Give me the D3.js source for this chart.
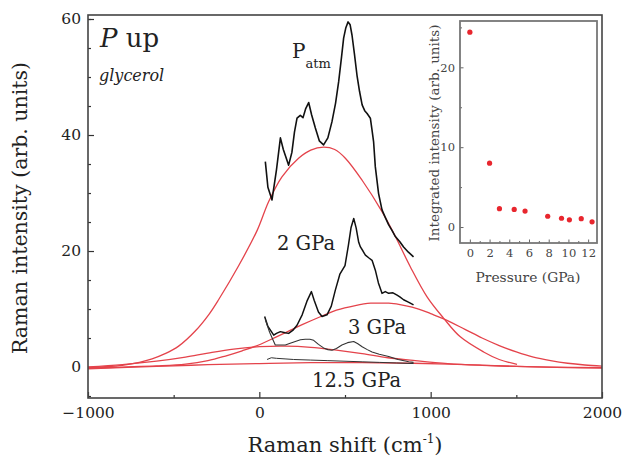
<!DOCTYPE html>
<html>
<head>
<meta charset="utf-8">
<style>
body { margin: 0; background: #fff; }
svg text { font-family: "DejaVu Serif", serif; fill: #222; }
.tick text { font-size: 15.5px; }
.inset .tick text { font-size: 11.5px; fill: #444; }
.tick line { stroke: #333; stroke-width: 1.2; }
.inset .tick line { stroke: #666; stroke-width: 1; }
.domain { display: none; }
</style>
</head>
<body>
<script src="https://d3js.org/d3.v7.min.js"></script>
<script>

// spectra: [Raman shift (cm-1), intensity]
var spectrumAtm = [[35,35.4],[50,31],[74,28.8],[100,34],[123,39.5],[140,37.5],[171,34.8],[190,37],[205,40.5],
  [220,42.9],[239,43.4],[255,43],[270,44.5],[288,45.6],[305,43.5],[327,41.2],[350,39],[375,38.3],[400,39.5],
  [424,42.3],[445,45.5],[463,49.2],[480,53.5],[492,56.7],[505,58.5],[518,59.5],[530,59],[541,57.2],[555,54],
  [570,50.3],[585,47.5],[600,45.2],[615,44.2],[629,43.7],[648,42.9],[657,41],[667,38.8],[677,34.5],[696,29.9],
  [716,27.1],[735,25.8],[755,24.5],[775,23.5],[794,22.5],[820,21.6],[842,20.7],[870,19.8],[900,19.0]];
var spectrum2 = [[31,8.7],[50,7],[84,5.5],[100,5.8],[123,6.1],[150,5.9],[171,5.8],[195,6.3],[220,7.2],[250,9],
  [280,11.5],[304,13.0],[320,11.5],[345,9.5],[366,8.7],[395,9.0],[420,10.5],[444,13.3],[470,16],[500,17.5],
  [520,21],[535,24],[551,25.6],[565,24],[580,21.5],[590,20.7],[605,20],[619,19.3],[640,18.8],[658,18.4],
  [668,17.5],[677,16.7],[695,14.5],[716,12.7],[735,13],[755,12.7],[780,12.8],[804,12.4],[820,12.1],[842,11.6],
  [870,11.2],[900,10.7]];
var spectrum3 = [[35,8.2],[60,6],[93,3.8],[120,3.8],[152,3.8],[180,4.1],[210,4.4],[240,4.7],[268,4.8],[295,4.8],
  [317,4.6],[345,3.9],[375,3.3],[400,3.0],[424,2.9],[450,3.2],[482,3.8],[515,4.2],[551,4.4],[575,4.0],[600,3.5],
  [630,3.0],[658,2.6],[700,2.2],[755,1.8],[810,1.3],[872,0.9],[900,0.8]];
var spectrum125 = [[45,1.3],[70,1.6],[100,1.5],[150,1.4],[200,1.3],[300,1.2],[400,1.1],[500,1.0],[600,0.9],
  [700,0.8],[800,0.7],[900,0.6]];

// fitted curves (red), also
var fitAtm = [[-1000,-0.1],[-900,0.05],[-800,0.3],[-700,0.8],[-626,1.4],[-550,2.3],[-471,3.6],[-374,6.2],
  [-296,9.0],[-238,11.6],[-120,17.5],[-12,23.6],[54,28.5],[132,32.8],[229,36],[300,37.4],[375,37.9],[440,37.5],
  [502,36],[600,32.2],[716,26.8],[794,22.5],[881,17.3],[979,12.1],[1076,8.4],[1173,5.2],[1309,2.6],[1400,1.3],
  [1504,0.45]];
var fit2 = [[-1000,-0.2],[-800,0],[-600,0.2],[-431,0.5],[-300,1.1],[-198,1.9],[-100,2.8],[-4,3.8],[100,5.2],
  [171,6.2],[250,7.3],[366,8.8],[450,9.8],[560,10.6],[650,11],[706,11],[755,11],[850,10.6],[930,10],[1000,9.2],
  [1076,8.3],[1200,6.5],[1300,5.0],[1400,3.7],[1500,2.6],[1600,1.7],[1700,1.1],[1800,0.65],[1900,0.35],[2000,0.15]];
var fit3 = [[-1000,0],[-800,0.4],[-600,1.0],[-431,1.7],[-300,2.4],[-150,3.1],[0,3.5],[150,3.6],[300,3.4],
  [450,2.9],[600,2.3],[750,1.6],[910,1.1],[1100,0.6],[1300,0.3],[1500,0.1],[1700,0],[2000,-0.1]];
var fit125 = [[-1000,-0.3],[-600,0.1],[-300,0.4],[0,0.6],[300,0.75],[600,0.75],[900,0.65],[1200,0.4],
  [1500,0.1],[1800,-0.1],[2000,-0.2]];

// inset: integrated intensity vs pressure
var pressure = [0, 2, 3, 4.5, 5.6, 7.9, 9.3, 10.1, 11.3, 12.4];
var integrated = [24.4, 8.0, 2.3, 2.2, 2.0, 1.35, 1.1, 0.9, 1.05, 0.65];

// tick labels
var xTicks = [-1000, 0, 1000, 2000];
var xMinor = [-500, 500, 1500];
var yTicks = [0, 20, 40, 60];
var yMinor = [-5, 5, 10, 15, 25, 30, 35, 45, 50, 55, 60];
var insetXTicks = [0, 2, 4, 6, 8, 10, 12];
var insetXMinor = [1, 3, 5, 7, 9, 11];
var insetYTicks = [0, 10, 20];
var insetYMinor = [5, 15, 25];

var W = 623, H = 464;
var plot = {left: 88, top: 15, right: 602, bottom: 398};

var svg = d3.select("body").append("svg")
    .attr("width", W)
    .attr("height", H);

var x = d3.scaleLinear().domain([-1000, 2000]).range([plot.left, plot.right]);
var y = d3.scaleLinear().domain([-5.34, 60.69]).range([plot.bottom, plot.top]);

svg.append("clipPath").attr("id", "clip")
  .append("rect")
    .attr("x", plot.left).attr("y", plot.top)
    .attr("width", plot.right - plot.left).attr("height", plot.bottom - plot.top);

// axes, ticks pointing inwards
svg.append("g")
    .attr("transform", "translate(0," + plot.bottom + ")")
    .call(d3.axisBottom(x).tickValues(xTicks).tickSize(-6).tickPadding(9).tickFormat(d3.format("d")));
svg.append("g")
    .attr("transform", "translate(0," + plot.bottom + ")")
    .call(d3.axisBottom(x).tickValues(xMinor).tickSize(-3).tickFormat(""));
svg.append("g")
    .attr("transform", "translate(" + plot.left + ",0)")
    .call(d3.axisLeft(y).tickValues(yTicks).tickSize(-6).tickPadding(7));
svg.append("g")
    .attr("transform", "translate(" + plot.left + ",0)")
    .call(d3.axisLeft(y).tickValues(yMinor).tickSize(-3).tickFormat(""));

var line = d3.line()
    .x(function(d) { return x(d[0]); })
    .y(function(d) { return y(d[1]); });
var smooth = d3.line()
    .x(function(d) { return x(d[0]); })
    .y(function(d) { return y(d[1]); })
    .curve(d3.curveCatmullRom.alpha(0.5));

var curves = svg.append("g").attr("clip-path", "url(#clip)");

// red fits
[fitAtm, fit2, fit3, fit125].forEach(function(f) {
  curves.append("path")
    .attr("d", smooth(f))
    .attr("fill", "none")
    .attr("stroke", "#e4434b")
    .attr("stroke-width", 1.3);
});

// black spectra
[[spectrumAtm, 1.6], [spectrum2, 1.5], [spectrum3, 1.1], [spectrum125, 1.0]].forEach(function(s) {
  curves.append("path")
    .attr("d", line(s[0]))
    .attr("fill", "none")
    .attr("stroke", s[1] > 1.2 ? "#111" : "#333")
    .attr("stroke-width", s[1])
    .attr("stroke-linejoin", "round");
});

// frame
svg.append("rect")
    .attr("x", plot.left).attr("y", plot.top)
    .attr("width", plot.right - plot.left).attr("height", plot.bottom - plot.top)
    .attr("fill", "none")
    .attr("stroke", "#444")
    .attr("stroke-width", 1.6);

// annotations
var pUp = svg.append("text").attr("x", 100).attr("y", 47).style("font-size", "26px");
pUp.append("tspan").style("font-style", "italic").text("P");
pUp.append("tspan").text(" up");
svg.append("text").attr("x", 99).attr("y", 81)
    .style("font-size", "16px").style("font-style", "italic").text("glycerol");

var patm = svg.append("text").attr("x", 292).attr("y", 58).style("font-size", "20px");
patm.append("tspan").text("P");
patm.append("tspan").attr("dy", 10).style("font-size", "13px").text("atm");

svg.append("text").attr("x", 277).attr("y", 250).style("font-size", "19.5px").text("2 GPa");
svg.append("text").attr("x", 348).attr("y", 334).style("font-size", "19.5px").text("3 GPa");
svg.append("text").attr("x", 312).attr("y", 387).style("font-size", "19.5px").text("12.5 GPa");

// axis titles
svg.append("text")
    .attr("transform", "translate(27,208) rotate(-90)")
    .attr("text-anchor", "middle")
    .style("font-size", "20.5px")
    .text("Raman intensity (arb. units)");

var xt = svg.append("text")
    .attr("x", 345).attr("y", 452)
    .attr("text-anchor", "middle")
    .style("font-size", "21px");
xt.append("tspan").text("Raman shift (cm");
xt.append("tspan").attr("dy", -9).style("font-size", "12px").text("-1");
xt.append("tspan").attr("dy", 9).text(")");

// inset
var inset = {left: 460, top: 21, right: 597, bottom: 243};
var ix = d3.scaleLinear().domain([-1, 12.9]).range([inset.left, inset.right]);
var iy = d3.scaleLinear().domain([-2, 25.8]).range([inset.bottom, inset.top]);

var ig = svg.append("g").attr("class", "inset");

ig.append("rect")
    .attr("x", inset.left).attr("y", inset.top)
    .attr("width", inset.right - inset.left).attr("height", inset.bottom - inset.top)
    .attr("fill", "#fff");

ig.append("g")
    .attr("transform", "translate(0," + inset.bottom + ")")
    .call(d3.axisBottom(ix).tickValues(insetXTicks).tickSize(-3.5).tickPadding(6));
ig.append("g")
    .attr("transform", "translate(0," + inset.bottom + ")")
    .call(d3.axisBottom(ix).tickValues(insetXMinor).tickSize(-2).tickFormat(""));
ig.append("g")
    .attr("transform", "translate(" + inset.left + ",0)")
    .call(d3.axisLeft(iy).tickValues(insetYTicks).tickSize(-3.5).tickPadding(5));
ig.append("g")
    .attr("transform", "translate(" + inset.left + ",0)")
    .call(d3.axisLeft(iy).tickValues(insetYMinor).tickSize(-2).tickFormat(""));

ig.selectAll("circle")
  .data(pressure)
  .enter()
  .append("circle")
    .attr("cx", function(d) { return ix(d); })
    .attr("cy", function(d, i) { return iy(integrated[i]); })
    .attr("r", 2.6)
    .attr("fill", "#e8262e");

ig.append("rect")
    .attr("x", inset.left).attr("y", inset.top)
    .attr("width", inset.right - inset.left).attr("height", inset.bottom - inset.top)
    .attr("fill", "none")
    .attr("stroke", "#777")
    .attr("stroke-width", 1.8);

ig.append("text")
    .attr("transform", "translate(439,133) rotate(-90)")
    .attr("text-anchor", "middle")
    .style("font-size", "13.5px")
    .style("fill", "#444")
    .text("Integrated intensity (arb. units)");

ig.append("text")
    .attr("x", 528).attr("y", 282)
    .attr("text-anchor", "middle")
    .style("font-size", "13.8px")
    .style("fill", "#444")
    .text("Pressure (GPa)");

</script>
</body>
</html>
